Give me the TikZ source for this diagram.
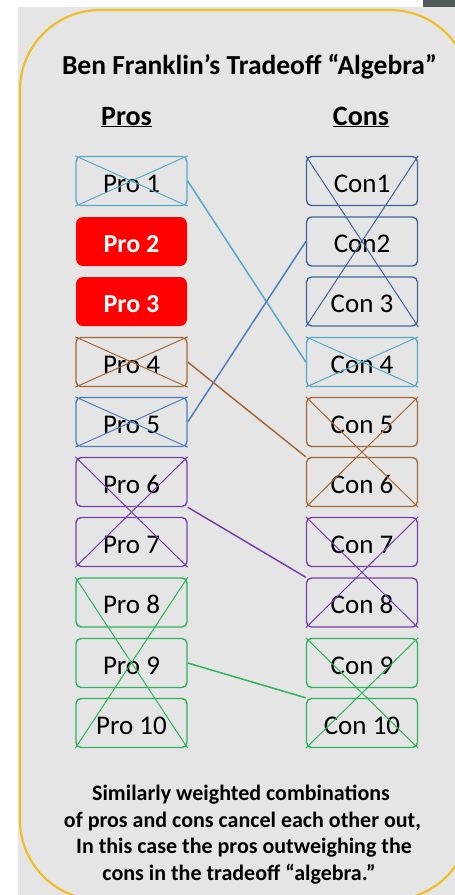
\documentclass[tikz,border=0pt]{standalone}
\usepackage{fontspec}
\setmainfont{Carlito}
\definecolor{bgc}{RGB}{229,229,229}
\definecolor{goldc}{RGB}{240,190,40}
\definecolor{cornerc}{RGB}{82,90,90}
\definecolor{tealc}{RGB}{85,170,200}
\definecolor{navyc}{RGB}{65,100,155}
\definecolor{steelc}{RGB}{80,125,190}
\definecolor{brownc}{RGB}{165,105,55}
\definecolor{purpc}{RGB}{120,65,170}
\definecolor{grnc}{RGB}{45,180,95}
\definecolor{hotred}{RGB}{255,0,0}
\begin{document}
\begin{tikzpicture}[x=1pt,y=-1pt,
  box/.style={draw, rounded corners=5pt, line width=1.4pt, minimum width=111pt, minimum height=49pt, inner sep=0pt, text height=22pt, text depth=0pt, font=\fontsize{27}{30}\selectfont, text=black},
  redbox/.style={box, draw=none, fill=hotred, rounded corners=7pt, text=white, font=\fontsize{26}{30}\selectfont\bfseries},
  xline/.style={line width=1pt},
  link/.style={line width=1.5pt},
  btext/.style={anchor=base, font=\fontsize{22}{26}\selectfont\bfseries, inner sep=0pt}]
\useasboundingbox (0,0) rectangle (455,895);
\fill[white] (0,0) rectangle (455,895);
\fill[bgc] (18,7) rectangle (455,895);
\fill[cornerc] (423,0) rectangle (455,7);
\begin{scope}
\clip (0,0) rectangle (455,895);
\draw[goldc, line width=2.2pt, rounded corners=80pt] (20,10) rectangle (470,900);
\end{scope}

\node[anchor=base, font=\fontsize{27.5}{30}\selectfont\bfseries, inner sep=0pt] (title) at (249.5,74) {Ben Franklin’s Tradeoff “Algebra”};
\node[anchor=base, font=\fontsize{28}{30}\selectfont\bfseries, inner sep=0pt] (pros) at (126.5,125) {\underline{Pros}};
\node[anchor=base, font=\fontsize{28}{30}\selectfont\bfseries, inner sep=0pt] (cons) at (361,125) {\underline{Cons}};

% Pros
\node[box, draw=tealc] (p1) at (131.5,181) {Pro 1};
\node[redbox] (p2) at (131.5,241.5) {Pro 2};
\node[redbox] (p3) at (131.5,301.5) {Pro 3};
\node[box, draw=brownc] (p4) at (131.5,362) {Pro 4};
\node[box, draw=steelc] (p5) at (131.5,422) {Pro 5};
\node[box, draw=purpc] (p6) at (131.5,482) {Pro 6};
\node[box, draw=purpc] (p7) at (131.5,542) {Pro 7};
\node[box, draw=grnc] (p8) at (131.5,602.5) {Pro 8};
\node[box, draw=grnc] (p9) at (131.5,663) {Pro 9};
\node[box, draw=grnc] (p10) at (131.5,723) {Pro 10};

% Cons
\node[box, draw=navyc] (c1) at (362,181) {Con1};
\node[box, draw=navyc] (c2) at (362,241.5) {Con2};
\node[box, draw=navyc] (c3) at (362,301.5) {Con 3};
\node[box, draw=tealc] (c4) at (362,362) {Con 4};
\node[box, draw=brownc] (c5) at (362,422) {Con 5};
\node[box, draw=brownc] (c6) at (362,482) {Con 6};
\node[box, draw=purpc] (c7) at (362,542) {Con 7};
\node[box, draw=purpc] (c8) at (362,602.5) {Con 8};
\node[box, draw=grnc] (c9) at (362,663) {Con 9};
\node[box, draw=grnc] (c10) at (362,723) {Con 10};

% crosses
\draw[xline, tealc] (p1.north west) -- (p1.south east) (p1.north east) -- (p1.south west);
\draw[xline, brownc] (p4.north west) -- (p4.south east) (p4.north east) -- (p4.south west);
\draw[xline, steelc] (p5.north west) -- (p5.south east) (p5.north east) -- (p5.south west);
\draw[xline, purpc] (p6.north west) -- (p7.south east) (p6.north east) -- (p7.south west);
\draw[xline, grnc] (p8.north west) -- (p10.south east) (p8.north east) -- (p10.south west);
\draw[xline, navyc] (c1.north west) -- (c3.south east) (c1.north east) -- (c3.south west);
\draw[xline, tealc] (c4.north west) -- (c4.south east) (c4.north east) -- (c4.south west);
\draw[xline, brownc] (c5.north west) -- (c6.south east) (c5.north east) -- (c6.south west);
\draw[xline, purpc] (c7.north west) -- (c8.south east) (c7.north east) -- (c8.south west);
\draw[xline, grnc] (c9.north west) -- (c10.south east) (c9.north east) -- (c10.south west);

% connectors
\draw[link, tealc] (p1.east) -- (c4.west);
\draw[link, steelc] (p5.east) -- (c2.west);
\draw[link, brownc] (p4.east) -- (c6.north west);
\draw[link, purpc] (p6.south east) -- (c8.north west);
\draw[link, grnc] (p9.east) -- (c10.north west);

% bottom text
\node[btext] (b1) at (241,800) {Similarly weighted combinations};
\node[btext] (b2) at (242.5,827) {of pros and cons cancel each other out,};
\node[btext] (b3) at (244,853.5) {In this case the pros outweighing the};
\node[btext] (b4) at (239,880) {cons in the tradeoff “algebra.”};
\end{tikzpicture}
\end{document}
